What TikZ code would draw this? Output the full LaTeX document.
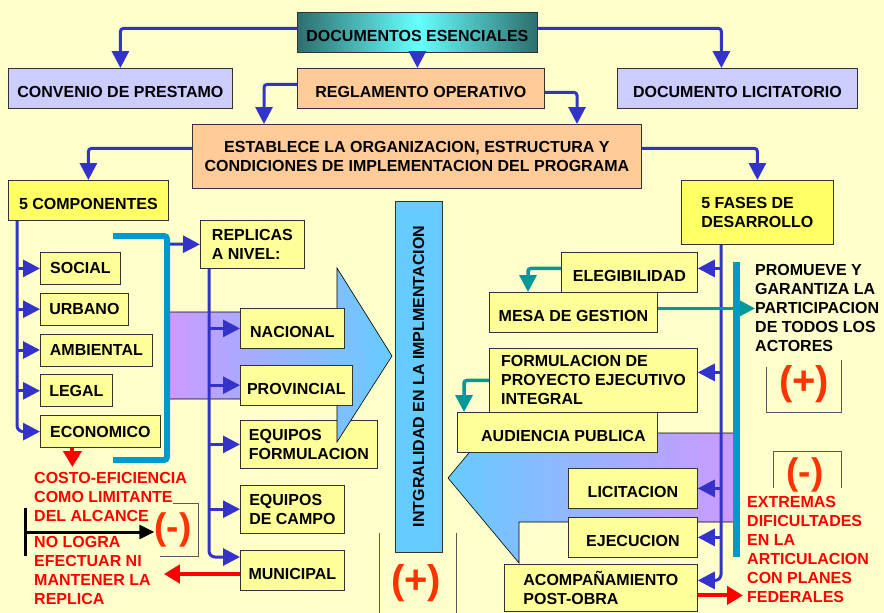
\documentclass[tikz,border=0pt]{standalone}
\usepackage{fontspec}
\setmainfont{Liberation Sans}
\usetikzlibrary{arrows.meta, positioning, calc}

\definecolor{bgyellow}{HTML}{FFFFCC}
\definecolor{paleyellow}{HTML}{FFFF99}
\definecolor{brightyellow}{HTML}{FFFF66}
\definecolor{peach}{HTML}{FFCC99}
\definecolor{lavender}{HTML}{CCCCFF}
\definecolor{linkblue}{HTML}{3333CC}
\definecolor{barcyan}{HTML}{0099CC}
\definecolor{tealline}{HTML}{009999}
\definecolor{skyblue}{HTML}{66CCFF}
\definecolor{lilac}{HTML}{CC99FF}
\definecolor{darkteal}{HTML}{2E6E6E}
\definecolor{brightcyan}{HTML}{66FFFF}
\definecolor{signred}{HTML}{FF3300}

\begin{document}
\begin{tikzpicture}[
    x=1pt, y=-1pt,
    box/.style       ={rectangle, draw=black!80, line width=0.8pt, inner sep=0pt, anchor=north west, align=center, font=\fontsize{16}{19}\selectfont\bfseries},
    lowtext/.style   ={text height=18.5pt, text depth=0pt}, % single line sits a little low
    itembox/.style   ={box, fill=paleyellow},
    headbox/.style   ={box, fill=brightyellow},
    docbox/.style    ={box, fill=lavender, lowtext},
    rulebox/.style   ={box, fill=peach},
    notetxt/.style   ={inner sep=0pt, anchor=north west, align=left, font=\fontsize{16}{19}\selectfont\bfseries},
    signtxt/.style   ={inner sep=0pt, text=signred, font=\fontsize{40}{40}\selectfont\bfseries},
    link/.style      ={draw=linkblue, line width=3pt, -{Triangle[length=17pt, width=17pt]}},
    tealarrow/.style ={draw=tealline, line width=3.5pt, -{Triangle[length=17pt, width=17pt]}},
    redarrow/.style  ={draw=red, line width=4pt, -{Triangle[length=16pt, width=18pt]}},
    blackarrow/.style={draw=black, line width=3pt, {Bar[width=48pt]}-{Triangle[length=15pt, width=14pt]}},
    cyanline/.style  ={draw=barcyan, line width=6pt},
    bracket/.style   ={draw=black!65, line width=0.8pt},
    bigarrow/.style  ={draw=black, line width=0.6pt},
    ]

    % --- Background ---
    \fill[bgyellow] (0,0) rectangle (884,613);
    \useasboundingbox (0,0) rectangle (884,613);

    % lower replica box sits under the big arrow
    \node[itembox, minimum width=137pt, minimum height=48pt, align=left] (eqformulacion) at (240,420) {EQUIPOS\\FORMULACION};

    % --- Big shaded arrows ---
    \shadedraw[bigarrow, left color=lilac, right color=skyblue]
        (168,312) -- (337,312) -- (337,268) -- (392,356) -- (337,442) -- (337,399) -- (168,399) -- cycle;
    \shadedraw[bigarrow, left color=skyblue, right color=lilac]
        (735,433) -- (519,433) -- (519,393) -- (448,478) -- (519,563) -- (519,522) -- (735,522) -- cycle;

    % --- Documents ---
    \node[box, lowtext, left color=darkteal, right color=darkteal, middle color=brightcyan, minimum width=240pt, minimum height=40pt] (docs) at (297,12) {DOCUMENTOS ESENCIALES};
    \node[docbox, minimum width=224pt, minimum height=40pt] (prestamo) at (8,68) {CONVENIO DE PRESTAMO};
    \node[rulebox, lowtext, minimum width=247pt, minimum height=40pt] (reglamento) at (297,68) {REGLAMENTO OPERATIVO};
    \node[docbox, minimum width=240pt, minimum height=40pt] (licitatorio) at (617,68) {DOCUMENTO LICITATORIO};
    \node[rulebox, minimum width=449pt, minimum height=64pt] (establece) at (192,124) {ESTABLECE LA ORGANIZACION, ESTRUCTURA Y\\CONDICIONES DE IMPLEMENTACION DEL PROGRAMA};

    \node[headbox, lowtext, minimum width=160pt, minimum height=40pt] (componentes) at (8,180) {5 COMPONENTES};
    \node[headbox, minimum width=152pt, minimum height=64pt, align=left] (fases) at (681,180) {5 FASES DE\\DESARROLLO};

    % --- Components ---
    \node[itembox, minimum width=80pt, minimum height=32pt] (social) at (40,252) {SOCIAL};
    \node[itembox, minimum width=88pt, minimum height=32pt, below=8pt of social.south west, anchor=north west] (urbano) {URBANO};
    \node[itembox, minimum width=112pt, minimum height=32pt, below=8pt of urbano.south west, anchor=north west] (ambiental) {AMBIENTAL};
    \node[itembox, minimum width=72pt, minimum height=32pt, below=8pt of ambiental.south west, anchor=north west] (legal) {LEGAL};
    \node[itembox, minimum width=120pt, minimum height=32pt, below=8pt of legal.south west, anchor=north west] (economico) {ECONOMICO};

    % --- Replicas ---
    \node[itembox, minimum width=104pt, minimum height=48pt, align=left] (replicas) at (200,220) {REPLICAS\\A NIVEL:};
    \node[itembox, lowtext, minimum width=104pt, minimum height=40pt] (nacional) at (240,308) {NACIONAL};
    \node[itembox, lowtext, minimum width=112pt, minimum height=40pt, below=16pt of nacional.south west, anchor=north west] (provincial) {PROVINCIAL};
    \node[itembox, minimum width=104pt, minimum height=48pt, align=left, below=16pt of eqformulacion.south west, anchor=north west] (campo) {EQUIPOS\\DE CAMPO};
    \node[itembox, lowtext, minimum width=104pt, minimum height=40pt, below=16pt of campo.south west, anchor=north west] (municipal) {MUNICIPAL};

    \node[draw=black!80, line width=0.8pt, fill=skyblue, rotate=90, minimum width=351pt, minimum height=47pt, inner sep=0pt, font=\fontsize{16}{19}\selectfont\bfseries] (integralidad) at (418.5,376.5) {INTGRALIDAD EN LA IMPLMENTACION};

    % --- Phases ---
    \node[itembox, lowtext, minimum width=136pt, minimum height=40pt] (elegibilidad) at (561,252) {ELEGIBILIDAD};
    \node[itembox, lowtext, minimum width=168pt, minimum height=40pt] (mesa) at (489,292) {MESA DE GESTION};
    \node[itembox, minimum width=208pt, minimum height=64pt, align=left] (proyecto) at (489,348) {FORMULACION DE\\PROYECTO EJECUTIVO\\INTEGRAL};
    \node[itembox, lowtext, minimum width=200pt, minimum height=40pt] (audiencia) at (457,412) {\hspace*{12pt}AUDIENCIA PUBLICA};
    \node[itembox, lowtext, minimum width=129pt, minimum height=40pt] (licitacion) at (568,468) {LICITACION};
    \node[itembox, lowtext, minimum width=129pt, minimum height=40pt] (ejecucion) at (568,517) {EJECUCION};
    \node[itembox, minimum width=193pt, minimum height=47pt, align=left] (acompanamiento) at (504,564) {ACOMPAÑAMIENTO\\POST-OBRA};

    % --- Notes ---
    \node[notetxt] (promueve) at (755,264) {PROMUEVE Y\\GARANTIZA LA\\PARTICIPACION\\DE TODOS LOS\\ACTORES};
    \node[notetxt, text=red] (costo) at (34,472) {COSTO-EFICIENCIA\\COMO LIMITANTE\\DEL ALCANCE};
    \node[notetxt, text=red] (nologra) at (34,536) {NO LOGRA\\EFECTUAR NI\\MANTENER LA\\REPLICA};
    \node[notetxt, text=red] (extremas) at (747,496) {EXTREMAS\\DIFICULTADES\\EN LA\\ARTICULACION\\CON PLANES\\FEDERALES};

    \node[signtxt] (mas_centro) at (416,583) {(+)};
    \node[signtxt] (mas_actores) at (804,384) {(+)};
    \node[signtxt, font=\fontsize{37}{37}\selectfont\bfseries] (menos_costo) at (173,530) {(-)};
    \node[signtxt, font=\fontsize{37}{37}\selectfont\bfseries] (menos_planes) at (805,475) {(-)};

    % brackets round the signs
    \draw[bracket] (379,533) -- (379,613);
    \draw[bracket] (456,533) -- (456,613);
    \draw[bracket] (766,367) -- (766,412) -- (841,412) -- (841,360);
    \draw[bracket] (773,488) -- (773,451) -- (841,451) -- (841,488);
    \draw[bracket] (173,503) -- (198,503) -- (198,556) -- (160,556);

    % --- Connections ---
    \draw[link, rounded corners=3pt] ([yshift=4pt]docs.west) -| (prestamo.north);
    \draw[link] (docs.south) -- (docs.south |- reglamento.north);
    \draw[link, rounded corners=3pt] ([yshift=4pt]docs.east) -| ([xshift=-16pt]licitatorio.north);
    \draw[link, rounded corners=3pt] ([yshift=4pt]reglamento.west) -| ($(establece.north west)+(72,0)$);
    \draw[link, rounded corners=3pt] ([yshift=-4pt]reglamento.east) -| ($(establece.north west)+(385,0)$);
    \draw[link, rounded corners=3pt] ([yshift=8pt]establece.west) -| (componentes.north);
    \draw[link, rounded corners=3pt] ([yshift=8pt]establece.east) -| (fases.north);

    % components
    \coordinate (comp_spine) at ($(componentes.south west)+(9,0)$);
    \draw[link, rounded corners=6pt] (comp_spine) |- (economico.west);
    \draw[link] (comp_spine |- social.west) -- (social.west);
    \draw[link] (comp_spine |- urbano.west) -- (urbano.west);
    \draw[link] (comp_spine |- ambiental.west) -- (ambiental.west);
    \draw[link] (comp_spine |- legal.west) -- (legal.west);

    \coordinate (cyan_out) at (167,244);
    \draw[link] (cyan_out) -- (replicas.west);
    \draw[cyanline, rounded corners=3pt] (113,236) -- (167,236) -- (167,460) -- (113,460);

    % replicas
    \coordinate (rep_spine) at ($(replicas.south west)+(9,0)$);
    \coordinate (muni_in) at ([yshift=13pt]municipal.west);
    \draw[link, rounded corners=6pt] (rep_spine) |- (muni_in);
    \draw[link] (rep_spine |- nacional.west) -- (nacional.west);
    \draw[link] (rep_spine |- provincial.west) -- (provincial.west);
    \draw[link] (rep_spine |- eqformulacion.west) -- (eqformulacion.west);
    \draw[link] (rep_spine |- campo.west) -- (campo.west);

    % limits
    \coordinate (eco_out) at ([xshift=-28pt]economico.south);
    \draw[redarrow, shorten >=5pt] (eco_out) -- (eco_out |- costo.north);
    \coordinate (muni_out) at ([yshift=-4pt]municipal.west);
    \draw[redarrow, shorten >=13pt] (muni_out) -- (muni_out -| nologra.east);
    \coordinate (costo_bar) at (24,532);
    \draw[blackarrow] (costo_bar) -- (costo_bar -| menos_costo.west);

    % phases
    \coordinate (fase_spine) at ($(fases.south west)+(40,0)$);
    \coordinate (acomp_in) at ([yshift=7.5pt]acompanamiento.east);
    \coordinate (eleg_in) at ([yshift=4pt]elegibilidad.east);
    \coordinate (proy_in) at ([yshift=8pt]proyecto.east);
    \draw[link, rounded corners=6pt] (fase_spine) |- (acomp_in);
    \draw[link] (fase_spine |- eleg_in) -- (eleg_in);
    \draw[link] (fase_spine |- proy_in) -- (proy_in);
    \draw[link] (fase_spine |- licitacion.east) -- (licitacion.east);
    \draw[link] (fase_spine |- ejecucion.east) -- (ejecucion.east);

    \draw[tealarrow, rounded corners=3pt] ([yshift=4pt]elegibilidad.west) -| ($(mesa.north west)+(39,0)$);
    \draw[tealarrow, rounded corners=3pt] (proyecto.west) -| ($(audiencia.north west)+(7,0)$);
    \coordinate (mesa_out) at ([yshift=4pt]mesa.east);
    \draw[tealarrow] (mesa_out) -- (mesa_out -| promueve.west);
    \draw[cyanline, line width=7pt] (736,262) -- (736,557);

    \coordinate (acomp_out) at ([yshift=-7.5pt]acompanamiento.east);
    \draw[redarrow, shorten >=4pt] (acomp_out) -- (acomp_out -| extremas.west);

\end{tikzpicture}
\end{document}
